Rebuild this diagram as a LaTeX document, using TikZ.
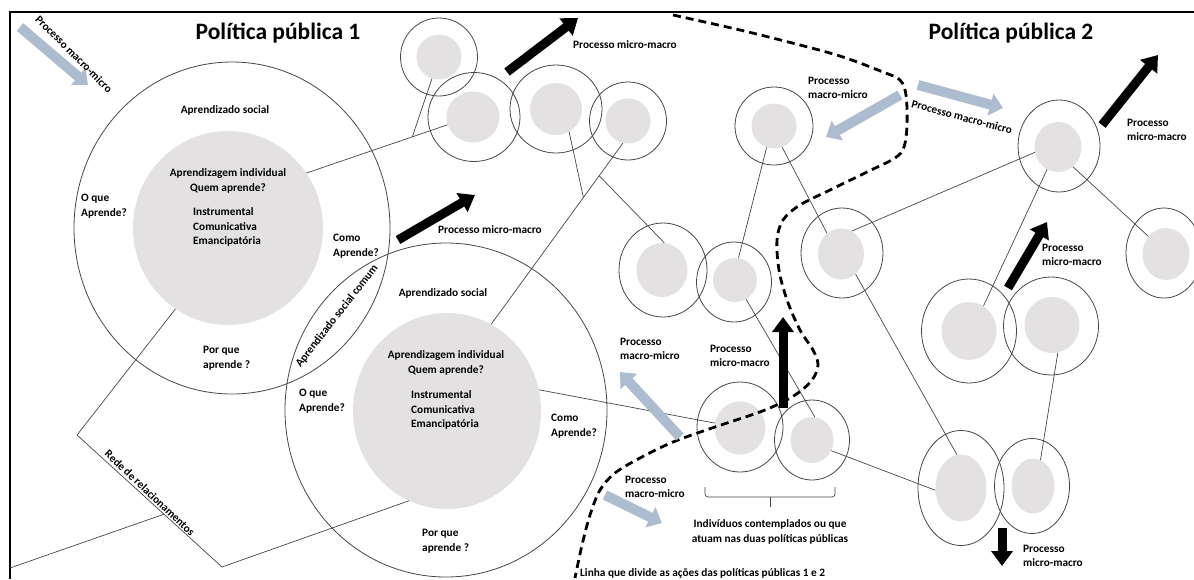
\documentclass[tikz,border=0pt]{standalone}
\usepackage{fontspec}
\setmainfont{Carlito}
\usetikzlibrary{arrows.meta,shapes.geometric,positioning,calc}

\definecolor{nucleo}{RGB}{227,225,226}
\definecolor{traco}{RGB}{70,70,70}
\definecolor{azulcinza}{RGB}{174,188,207}

\tikzset{
  pessoa/.style={ellipse, draw=traco, line width=0.8pt, inner sep=0pt},
  miolo/.style={ellipse, fill=nucleo, inner sep=0pt},
  elo/.style={draw=traco, line width=0.7pt},
  rotulo/.style={font=\fontsize{11.3}{14.6}\selectfont\bfseries, inner sep=0pt, align=left},
  titulo/.style={font=\fontsize{23.5}{28}\selectfont\bfseries, inner sep=0pt},
  micromacro/.style={line width=9pt, -{Triangle[length=15pt,width=21pt]}},
  macromicro/.style={azulcinza, line width=10pt, -{Triangle[length=13pt,width=22pt]}},
  divisa/.style={line width=2.8pt, dash pattern=on 8pt off 5pt},
}

\begin{document}
\begin{tikzpicture}[x=1pt,y=-1pt]
\useasboundingbox (0,0) rectangle (1194,579);
% moldura
\draw[line width=1.2pt] (10,579) -- (10,12) -- (1194,12);

% politicas publicas
\node[miolo, minimum width=190pt, minimum height=194pt] (iP1) at (228,228) {};
\node[pessoa, minimum width=316pt, minimum height=332pt] (oP1) at (232,228) {};
\node[miolo, minimum width=188pt, minimum height=196pt] (iP2) at (447,411) {};
\node[pessoa, minimum width=322pt, minimum height=334pt] (oP2) at (446,410) {};

% individuos
\node[miolo, minimum width=45pt, minimum height=45pt] (iA) at (439,57) {};
\node[pessoa, minimum width=77pt, minimum height=78pt] (oA) at (439,57) {};
\node[miolo, minimum width=53pt, minimum height=51pt] (iB) at (473,117) {};
\node[pessoa, minimum width=92pt, minimum height=89pt] (oB) at (474,117) {};
\node[miolo, minimum width=52pt, minimum height=52pt] (iC) at (556,109) {};
\node[pessoa, minimum width=92pt, minimum height=88pt] (oC) at (556,109) {};
\node[miolo, minimum width=45pt, minimum height=45pt] (iD) at (628,121) {};
\node[pessoa, minimum width=77pt, minimum height=78pt] (oD) at (628,121) {};
\node[miolo, minimum width=51pt, minimum height=54pt] (iE) at (662,270) {};
\node[pessoa, minimum width=88pt, minimum height=94pt] (oE) at (663,270) {};
\node[miolo, minimum width=44pt, minimum height=44pt] (iF) at (735,280) {};
\node[pessoa, minimum width=75pt, minimum height=80pt] (oF) at (734,282) {};
\node[miolo, minimum width=45pt, minimum height=45pt] (iG) at (774,126) {};
\node[pessoa, minimum width=78pt, minimum height=78pt] (oG) at (774,126) {};
\node[miolo, minimum width=46pt, minimum height=51pt] (iJ) at (841,254) {};
\node[pessoa, minimum width=82pt, minimum height=90pt] (oJ) at (842,253) {};
\node[miolo, minimum width=51pt, minimum height=53pt] (iH) at (740,428) {};
\node[pessoa, minimum width=86pt, minimum height=90pt] (oH) at (740,427) {};
\node[miolo, minimum width=43pt, minimum height=46pt] (iI) at (812,440) {};
\node[pessoa, minimum width=75pt, minimum height=80pt] (oI) at (812,440) {};
\node[miolo, minimum width=47pt, minimum height=50pt] (iK) at (1058,147) {};
\node[pessoa, minimum width=82pt, minimum height=92pt] (oK) at (1059,146) {};
\node[miolo, minimum width=47pt, minimum height=52pt] (iM) at (1166,254) {};
\node[pessoa, minimum width=76pt, minimum height=90pt] (oM) at (1164,253) {};
\node[miolo, minimum width=55pt, minimum height=58pt] (iN) at (969,331) {};
\node[pessoa, minimum width=95pt, minimum height=104pt] (oN) at (969,331) {};
\node[miolo, minimum width=55pt, minimum height=56pt] (iO) at (1052,325) {};
\node[pessoa, minimum width=95pt, minimum height=98pt] (oO) at (1051,326) {};
\node[miolo, minimum width=51pt, minimum height=67pt] (iL) at (961,488) {};
\node[pessoa, minimum width=86pt, minimum height=115pt] (oL) at (961,488) {};
\node[miolo, minimum width=43pt, minimum height=55pt] (iPp) at (1033,486) {};
\node[pessoa, minimum width=75pt, minimum height=95pt] (oPp) at (1032,486) {};

% ligacoes
\draw[elo] (iP1.35) -- (iB.197);
\coordinate (jA) at ($(iP1.35)!0.75!(iB.197)$);
\draw[elo] (iA.252) -- (jA);
\draw[elo] (iD.257) -- (iP2.63);
\coordinate (jC) at ($(iD.257)!0.3!(iP2.63)$);
\coordinate (jE) at ($(iD.257)!0.18!(iP2.63)$);
\draw[elo] (iC.300) -- (jC);
\draw[elo] (jE) -- (iE.85);
\draw[elo] (iG.251) -- (iF.81);
\draw[elo] (iG.291) -- (iJ.124);
\draw[elo] (iF.300) -- (iI.83);
\draw[elo] (iJ.65) -- (iK.193);
\draw[elo] (iJ.306) -- (iL.97);
\draw[elo] (iK.244) -- (iN.60);
\draw[elo] (iK.307) -- (iM.135);
\draw[elo] (iO.282) -- (iPp.74);
\draw[elo] (iI.331) -- (iL.185);
\draw[elo] (iP2.13) -- (iH.169);

% rede de relacionamentos
\coordinate (r1) at (77,435);
\coordinate (r2) at (222,567);
\coordinate (borda) at (10,568);
\draw[elo] (iP1.237) -- (r1) -- (r2) -- (iP2.247);
\coordinate (jR) at ($(r1)!0.6!(r2)$);
\draw[elo] (borda) -- (jR);
\node[rotulo, rotate=-43.5] (rede) at (150,493) {Rede de relacionamentos};

% chave
\draw[elo, rounded corners=3pt] (705,487) -- (705,497) -- (835,497) -- (835,487);
\draw[elo] (770,497) -- (770,507);

% linha divisoria
\draw[divisa] plot[smooth, tension=0.55] coordinates {(673,15) (740,30) (800,45) (843,57) (883,72) (900,80) (906,95) (907,125) (904,147) (895,158) (867,172) (830,190) (800,205) (783,220) (777,240) (779,270) (787,300) (800,330) (813,350) (818,365) (812,380) (795,395) (765,410) (712,428) (673,442) (640,458) (615,473) (600,490) (590,515) (582,545) (575,578)};

% processos
\draw[micromacro] (507,72) -- (578,18);
\draw[micromacro] (398,240) -- (475,195);
\draw[micromacro] (783,408) -- (783,317);
\draw[micromacro] (1102,125) -- (1158,55);
\draw[micromacro] (1008,288) -- (1047,222);
\draw[micromacro] (1002,528) -- (1002,566);
\draw[macromicro] (20,27) -- (88,85);
\draw[macromicro] (900,95) -- (826,137);
\draw[macromicro] (918,85) -- (1003,108);
\draw[macromicro] (680,437) -- (620,372);
\draw[macromicro] (605,495) -- (662,523);

% textos
\node[titulo] (t1) at (278,33) {Política pública 1};
\node[titulo] (t2) at (1011,33) {Política pública 2};

\node[rotulo] (as1) at (225,110) {Aprendizado social};
\node[rotulo, align=center] (ai1) at (228,181) {Aprendizagem individual\\Quem aprende?};
\node[rotulo, anchor=west] (tp1) at (193,227) {Instrumental\\Comunicativa\\Emancipatória};
\node[rotulo, anchor=west] (oq1) at (81,206) {O que\\Aprende?};
\node[rotulo, anchor=west] (ca1) at (333,246) {Como\\Aprende?};
\node[rotulo, anchor=west] (pq1) at (203,358) {Por que\\aprende ?};

\node[rotulo] (as2) at (443,293) {Aprendizado social};
\node[rotulo, align=center] (ai2) at (446,363) {Aprendizagem individual\\Quem aprende?};
\node[rotulo, anchor=west] (tp2) at (411,410) {Instrumental\\Comunicativa\\Emancipatória};
\node[rotulo, anchor=west] (oq2) at (299,401) {O que\\Aprende?};
\node[rotulo, anchor=west] (ca2) at (551,426) {Como\\Aprende?};
\node[rotulo, anchor=west] (pq2) at (422,541) {Por que\\aprende ?};

\node[rotulo, rotate=52] (comum) at (337,316) {Aprendizado social comum};

\node[rotulo, rotate=-45] (mm1) at (74,54) {Processo macro-micro};
\node[rotulo, rotate=-15] (mm2) at (962,117) {Processo macro-micro};
\node[rotulo, anchor=west] (mm3) at (808,88) {Processo\\macro-micro};
\node[rotulo, anchor=west] (mm4) at (620,349) {Processo\\macro-micro};
\node[rotulo, anchor=west] (mm5) at (625,487) {Processo\\macro-micro};

\node[rotulo, anchor=west] (mi1) at (573,45) {Processo micro-macro};
\node[rotulo, anchor=west] (mi2) at (438,230) {Processo micro-macro};
\node[rotulo, anchor=west] (mi3) at (710,356) {Processo\\micro-macro};
\node[rotulo, anchor=west] (mi4) at (1127,130) {Processo\\micro-macro};
\node[rotulo, anchor=west] (mi5) at (1042,255) {Processo\\micro-macro};
\node[rotulo, anchor=west] (mi6) at (1023,556) {Processo\\micro-macro};

\node[rotulo, align=center] (indiv) at (770,532) {Indivíduos contemplados ou que\\atuam nas duas políticas públicas};
\node[rotulo, anchor=west] (linha) at (580,573) {Linha que divide as ações das políticas públicas 1 e 2};
\end{tikzpicture}
\end{document}
